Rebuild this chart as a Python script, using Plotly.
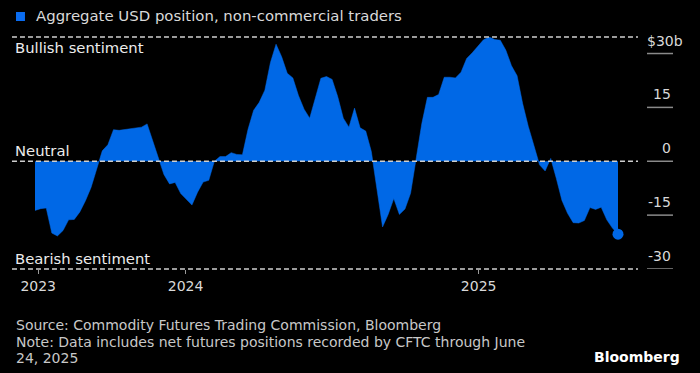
import plotly.graph_objects as go
import pandas as pd

# Weekly CFTC data, aggregate USD position of non-commercial traders ($bn)
dates = pd.date_range("2023-06-27", "2025-06-24", freq="7D")
values = [
    -13.7, -13.2, -13.0, -20.0, -20.8, -19.3, -16.3, -16.2, -14.1, -11.0,
    -7.3, -1.9, 2.9, 4.6, 8.8, 8.6, 8.8, 9.1, 9.2, 9.5,
    10.4, 5.5, 1.2, -3.7, -6.3, -5.9, -9.0, -10.5, -12.2, -8.6,
    -5.8, -5.3, 0.0, 1.3, 1.3, 2.4, 1.9, 1.8, 8.9, 14.2,
    16.4, 19.8, 27.5, 32.6, 29.1, 24.5, 23.2, 18.3, 14.5, 12.0,
    17.8, 23.1, 23.6, 22.8, 18.0, 12.0, 9.5, 14.8, 9.3, 8.4,
    2.7, -8.5, -18.3, -14.8, -10.4, -14.8, -13.3, -8.9, 0.2, 10.5,
    17.8, 17.8, 18.6, 23.4, 23.4, 23.2, 24.8, 28.6, 30.2, 31.9,
    33.8, 34.6, 33.9, 33.7, 30.9, 26.6, 23.8, 16.0, 9.7, 4.4,
    -1.0, -2.7, 0.8, -4.8, -10.9, -14.5, -17.1, -17.2, -16.5, -12.9,
    -13.4, -12.8, -16.3, -18.6, -20.3,
]

y_tick_vals = [30, 15, 0, -15, -30]
y_tick_text = ["$30b", "15", "0", "-15", "-30"]
x_tick_vals = ["2023-07-01", "2024-01-01", "2025-01-01"]
x_tick_text = ["2023", "2024", "2025"]

BLUE = "#0068e6"
FONT = "DejaVu Sans"
TXT = "#d9d9d9"

fig = go.Figure()
fig.add_trace(go.Scatter(
    x=dates, y=values, mode="lines", fill="tozeroy",
    fillcolor=BLUE, line=dict(color=BLUE, width=0.5),
    hoverinfo="skip", showlegend=False,
))
fig.add_trace(go.Scatter(
    x=[dates[-1]], y=[values[-1]], mode="markers",
    marker=dict(color=BLUE, size=11), cliponaxis=False,
    hoverinfo="skip", showlegend=False,
))

shapes = []
dash = dict(color="#cfcfcf", width=1.6, dash="5px,3px")
for yr, yv in [("paper", 1), ("y", 0), ("paper", 0)]:
    shapes.append(dict(type="line", xref="paper", yref=yr, x0=-0.0395, x1=1.0343,
                       y0=yv, y1=yv, line=dash, layer="above"))
for v in y_tick_vals:
    shapes.append(dict(type="line", xref="paper", yref="y", x0=1.0497, x1=1.0943,
                       y0=v, y1=v, line=dict(color="#8a8a8a", width=1.5)))
# legend swatch
shapes.append(dict(type="rect", xref="paper", yref="paper", x0=-0.0326, x1=-0.0172,
                   y0=1.069, y1=1.1078, fillcolor="#0a6cf0", line=dict(width=0)))

ann = []
for v, t in zip(y_tick_vals, y_tick_text):
    ann.append(dict(xref="paper", yref="y", x=(1.1149 if t.startswith("$") else 1.0943),
                    y=v, text=t, showarrow=False, xanchor="right", yanchor="bottom",
                    yshift=3, font=dict(family=FONT, size=14, color=TXT)))
ann.append(dict(xref="paper", yref="paper", x=-0.0017, y=1.0905, text="Aggregate USD position, non-commercial traders",
                showarrow=False, xanchor="left", yanchor="middle", font=dict(family=FONT, size=14.9, color=TXT)))
ann.append(dict(xref="paper", yref="paper", x=-0.0377, y=1, text="Bullish sentiment", showarrow=False,
                xanchor="left", yanchor="top", font=dict(family=FONT, size=14.8, color="#ececec")))
ann.append(dict(xref="paper", yref="y", x=-0.0377, y=0, text="Neutral", showarrow=False,
                xanchor="left", yanchor="bottom", font=dict(family=FONT, size=14.8, color="#ececec")))
ann.append(dict(xref="paper", yref="paper", x=-0.0377, y=0, text="Bearish sentiment", showarrow=False,
                xanchor="left", yanchor="bottom", font=dict(family=FONT, size=14.8, color="#ececec")))
footer = [
    ("Source: Commodity Futures Trading Commission, Bloomberg", -0.2414),
    ("Note: Data includes net futures positions recorded by CFTC through June", -0.3125),
    ("24, 2025", -0.3836),
]
for t, yy in footer:
    ann.append(dict(xref="paper", yref="paper", x=-0.036, y=yy, text=t, showarrow=False,
                    xanchor="left", yanchor="middle", font=dict(family=FONT, size=14, color="#c8c8c8")))
ann.append(dict(xref="paper", yref="paper", x=1.1098, y=-0.379, text="<b>Bloomberg</b>", showarrow=False,
                xanchor="right", yanchor="middle", font=dict(family=FONT, size=14, color="#ffffff")))

fig.update_layout(
    width=700, height=373,
    paper_bgcolor="black", plot_bgcolor="black",
    margin=dict(l=35, r=82, t=37, b=104),
    shapes=shapes, annotations=ann,
    xaxis=dict(type="date", range=[dates[0], dates[-1]], showgrid=False, zeroline=False,
               showline=False, ticks="outside", ticklen=4, tickcolor="#9a9a9a", tickwidth=1,
               tickvals=x_tick_vals, ticktext=x_tick_text,
               tickfont=dict(family=FONT, size=14, color=TXT)),
    yaxis=dict(range=[-30, 34.6], showgrid=False, zeroline=False, showline=False,
               showticklabels=False, ticks=""),
)
fig.write_html("out.html", config={"displayModeBar": False},
               post_script="document.body.style.margin='0';document.body.style.background='black';")
